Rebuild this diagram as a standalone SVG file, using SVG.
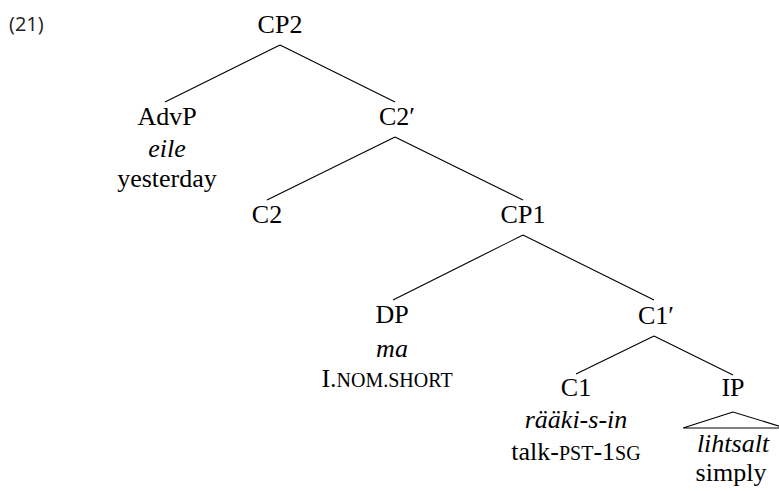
<svg xmlns="http://www.w3.org/2000/svg" width="779" height="491" viewBox="0 0 779 491">
<style>
.i{font-style:italic}
.e{stroke:#000;stroke-width:1.1;fill:none}
</style>
<rect width="779" height="491" fill="#fff"/>
<text x="9" y="31" font-family="Open Sans, DejaVu Sans, sans-serif" font-size="20" fill="#222">(21)</text>
<g id="connectors">
<line class="e" x1="280" y1="45" x2="165" y2="102"/>
<line class="e" x1="280" y1="45" x2="395" y2="102"/>
<line class="e" x1="395" y1="137" x2="267" y2="200"/>
<line class="e" x1="395" y1="137" x2="523" y2="200"/>
<line class="e" x1="523" y1="235" x2="393" y2="300"/>
<line class="e" x1="523" y1="235" x2="654" y2="300"/>
<line class="e" x1="654" y1="336" x2="576" y2="374"/>
<line class="e" x1="654" y1="336" x2="733" y2="375"/>
<polygon class="e" points="733,412 683,428 785,428"/>
</g>
<g font-family="Liberation Serif, Times New Roman, serif" font-size="26" text-anchor="middle" fill="#000">
<g id="CP2"><text x="280" y="33">CP2</text></g>
<g id="AdvP">
<text x="167" y="125">AdvP</text>
<text class="i" x="167" y="157">eile</text>
<text x="167" y="187">yesterday</text>
</g>
<g id="C2bar"><text x="397" y="125">C2′</text></g>
<g id="C2"><text x="267" y="223">C2</text></g>
<g id="CP1"><text x="523" y="223">CP1</text></g>
<g id="DP">
<text x="392" y="323">DP</text>
<text class="i" x="392" y="357">ma</text>
<text x="387" y="387">I.<tspan font-size="20">NOM.SHORT</tspan></text>
</g>
<g id="C1bar"><text x="656" y="324">C1′</text></g>
<g id="C1">
<text x="576" y="396">C1</text>
<text class="i" x="576" y="428">rääki-s-in</text>
<text x="576" y="460">talk-<tspan font-size="20">PST</tspan>-1<tspan font-size="20">SG</tspan></text>
</g>
<g id="IP">
<text x="733" y="396">IP</text>
<text class="i" x="733" y="452">lihtsalt</text>
<text x="731" y="481">simply</text>
</g>
</g>
</svg>
